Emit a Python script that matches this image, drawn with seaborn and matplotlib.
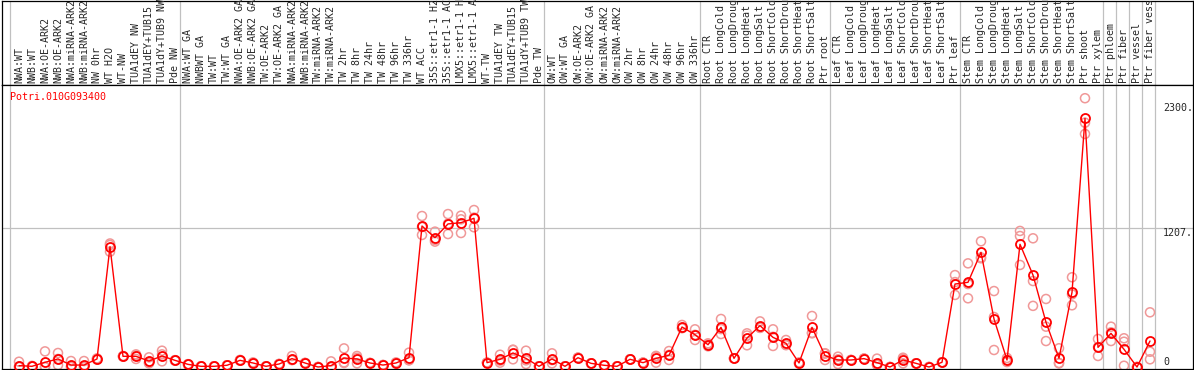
import matplotlib
matplotlib.use("Agg")
import matplotlib.pyplot as plt
import matplotlib.transforms as mtransforms
import pandas as pd
import seaborn as sns

sns.set_style("white")
plt.rcParams['font.family'] = ['DejaVu Sans Mono']

gene = "Potri.010G093400"

# column labels (already cut at 14 chars like the source)
nw_labels = ["NWA:WT", "NWB:WT", "NWA:OE-ARK2", "NWB:OE-ARK2", "NWA:miRNA-ARK2", "NWB:miRNA-ARK2",
             "NW 0hr", "WT H2O", "WT-NW", "TUA1dEY NW", "TUA1dEY+TUB15", "TUA1dY+TUB9 NW", "Pde NW"]
tw_labels = ["NWA:WT GA", "NWBWT GA", "TW:WT", "TW:WT GA", "NWA:OE-ARK2 GA", "NWB:OE-ARK2 GA",
             "TW:OE-ARK2", "TW:OE-ARK2 GA", "NWA:miRNA-ARK2", "NWB:miRNA-ARK2", "TW:miRNA-ARK2",
             "TW:miRNA-ARK2", "TW 2hr", "TW 8hr", "TW 24hr", "TW 48hr", "TW 96hr", "TW 336hr",
             "WT ACC", "35S::etr1-1 H2", "35S::etr1-1 AC", "LMX5::etr1-1 H", "LMX5::etr1-1 A",
             "WT-TW", "TUA1dEY TW", "TUA1dEY+TUB15", "TUA1dY+TUB9 TW", "Pde TW"]
ow_labels = ["OW:WT", "OW:WT GA", "OW:OE-ARK2", "OW:OE-ARK2 GA", "OW:miRNA-ARK2", "OW:miRNA-ARK2",
             "OW 2hr", "OW 8hr", "OW 24hr", "OW 48hr", "OW 96hr", "OW 336hr"]
root_labels = ["Root CTR", "Root LongCold", "Root LongDroug", "Root LongHeat", "Root LongSalt",
               "Root ShortCold", "Root ShortDrou", "Root ShortHeat", "Root ShortSalt", "Ptr root"]
leaf_labels = ["Leaf CTR", "Leaf LongCold", "Leaf LongDroug", "Leaf LongHeat", "Leaf LongSalt",
               "Leaf ShortCold", "Leaf ShortDrou", "Leaf ShortHeat", "Leaf ShortSalt", "Ptr leaf"]
stem_labels = ["Stem CTR", "Stem LongCold", "Stem LongDroug", "Stem LongHeat", "Stem LongSalt",
               "Stem ShortCold", "Stem ShortDrou", "Stem ShortHeat", "Stem ShortSalt", "Ptr shoot"]
ptr_labels = ["Ptr xylem", "Ptr phloem", "Ptr fiber", "Ptr vessel", "Ptr fiber vess"]

# mean expression per column
nw_mean = [12, 6, 41, 70, 17, 17, 70, 1047, 93, 93, 52, 96, 58]
tw_mean = [23, 6, 6, 15, 58, 35, 6, 26, 73, 35, 0, 12, 78, 70, 35, 17, 35, 81,
           1227, 1125, 1245, 1256, 1294, 38, 67, 122, 75, 6]
ow_mean = [70, 6, 81, 32, 15, 6, 67, 38, 75, 102, 348, 281]
root_mean = [194, 345, 75, 252, 360, 258, 206, 35, 345, 99]
leaf_mean = [61, 61, 73, 38, 0, 61, 32, 0, 41, 722]
stem_mean = [737, 998, 418, 61, 1068, 800, 389, 76, 650, 2164]
ptr_mean = [171, 293, 154, 0, 226]

# replicate values per column
nw_reps = [(46, 5, 0), (10, 4, 4), (136, 0, 0), (122, 17, 70), (52, 5, 0), (52, 0, 0),
           (75, 65, 70), (1062, 1003, 1075), (93, 90, 96), (70, 100, 110), (84, 32, 40),
           (142, 49, 110), (58, 55, 60)]
tw_reps = [(23, 20, 25), (6, 6, 6), (6, 6, 6), (15, 15, 15), (58, 55, 62), (35, 30, 40),
           (6, 6, 6), (26, 26, 26), (96, 60, 62), (35, 35, 35), (0, 0, 0), (49, 0, 0),
           (162, 40, 35), (96, 32, 80), (35, 35, 35), (17, 17, 17), (35, 40, 30), (125, 60, 58),
           (1314, 1149, 1218), (1178, 1091, 1106), (1331, 1157, 1247), (1317, 1166, 1285),
           (1366, 1216, 1300), (38, 38, 38), (107, 38, 55), (151, 67, 148), (142, 26, 58), (6, 6, 6)]
ow_reps = [(119, 32, 60), (6, 6, 6), (81, 81, 81), (32, 32, 32), (15, 15, 15), (6, 6, 6),
           (67, 67, 67), (38, 38, 38), (38, 90, 97), (139, 61, 106), (366, 340, 338), (328, 235, 280)]
root_reps = [(206, 180, 196), (418, 287, 330), (75, 75, 75), (293, 189, 274), (397, 340, 343),
             (328, 183, 263), (235, 190, 193), (35, 30, 40), (444, 293, 298), (61, 120, 116)]
leaf_reps = [(90, 26, 67), (61, 61, 61), (73, 73, 73), (73, 20, 21), (0, 0, 0), (81, 32, 70),
             (32, 32, 32), (0, 0, 0), (41, 41, 41), (800, 627, 739)]
stem_reps = [(902, 598, 722), (1094, 946, 954), (661, 148, 435), (43, 61, 79), (1184, 1140, 888),
             (1120, 748, 532), (592, 226, 351), (163, 32, 35), (781, 537, 632), (2339, 2126, 2028)]
ptr_reps = [(244, 96, 173), (351, 226, 302), (250, 11, 220), (0, 0, 0), (476, 133, 67)]

ytick_vals = [0, 1207, 2300]
ytick_text = ["0", "1207.", "2300."]

labels = nw_labels + tw_labels + ow_labels + root_labels + leaf_labels + stem_labels + ptr_labels
means = nw_mean + tw_mean + ow_mean + root_mean + leaf_mean + stem_mean + ptr_mean
reps = nw_reps + tw_reps + ow_reps + root_reps + leaf_reps + stem_reps + ptr_reps

df = pd.DataFrame({"col": range(len(means)), "value": means})
df_rep = pd.DataFrame([(i, v) for i, r in enumerate(reps) for v in r], columns=["col", "value"])

# separators after these columns
sep_after = [12, 40, 52, 62, 72, 83, 84, 85, 86, 87]

W, H = 1194, 370
fig = plt.figure(figsize=(W / 100, H / 100), dpi=100)
xl = ((1.5 - 19) / 13, (1192.5 - 19) / 13)
ax_head = fig.add_axes([1.5 / W, (H - 85) / H, 1191 / W, 84.5 / H])
ax = fig.add_axes([1.5 / W, 1.5 / H, 1191 / W, 283.5 / H])

grid = "#c0c0c0"
for a in (ax_head, ax):
    a.set_xlim(*xl)
    a.set_xticks([])
    a.set_yticks([])
    a.axvline(-0.69, color=grid, lw=0.9, zorder=0)
    for s in sep_after:
        a.axvline(s + 0.4, color=grid, lw=0.9, zorder=0)
    for sp in a.spines.values():
        sp.set_color("black")
        sp.set_linewidth(0.9)

ax.set_ylim(-13, 2454)
ax.axhline(1207, color=grid, lw=0.9, zorder=0)

sns.scatterplot(data=df_rep, x="col", y="value", ax=ax, marker="o", s=42,
                facecolor="none", edgecolor="#f09898", linewidth=1.1, zorder=2, legend=False)
sns.lineplot(data=df, x="col", y="value", ax=ax, color="red", lw=1, marker="o",
             markersize=6.5, markerfacecolor="none", markeredgecolor="red",
             markeredgewidth=1.3, zorder=3)
ax.set_xlabel("")
ax.set_ylabel("")

ax.text((9.5 - 19) / 13, 2350, gene, color="red", fontsize=7.2, va="center", ha="left")

for v, t in zip(ytick_vals, ytick_text):
    ax.text(88.0, v, t, fontsize=7.2, ha="left", va="bottom" if v == 0 else "top")

trans = mtransforms.blended_transform_factory(ax_head.transData, ax_head.transAxes)
for i, lab in enumerate(labels):
    ax_head.text(i, 0.025, lab, rotation=90, ha="center", va="bottom",
                 fontsize=7.2, transform=trans, clip_on=False)

fig.savefig("out.png", dpi=100)
